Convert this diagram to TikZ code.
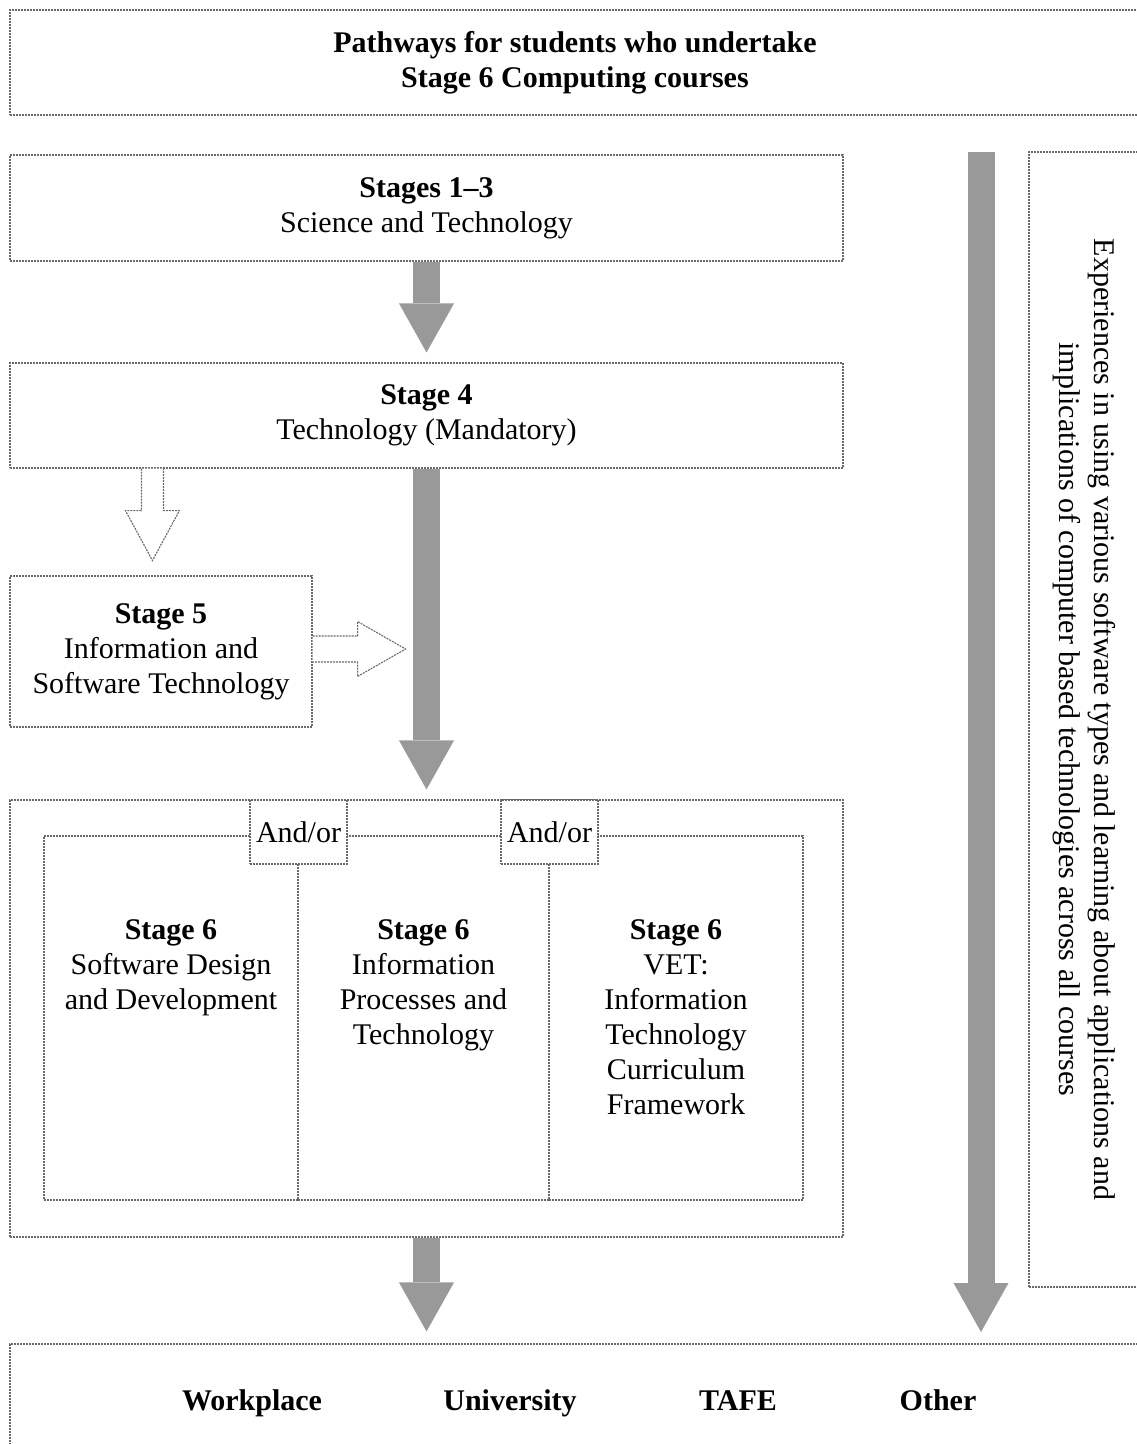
\documentclass[tikz,border=0pt]{standalone}
\usepackage{fontspec}
\setmainfont{Liberation Serif}
\usepackage{xcolor}
\definecolor{flowgray}{RGB}{153,153,153}
\definecolor{boxline}{RGB}{105,105,105}
\usetikzlibrary{arrows.meta}
\usetikzlibrary{positioning}
\usetikzlibrary{calc}

\tikzset{
  stagebox/.style={draw=boxline, line width=1.1pt, dash pattern=on 2pt off 1pt, rectangle, inner sep=0pt, align=center, fill=white},
  flow/.style={draw=flowgray, line width=27pt, -{Triangle[width=55pt,length=49pt,line width=0pt]}},
  hollow/.style={draw=boxline, line width=1.1pt, dash pattern=on 2pt off 1pt, fill=white, line join=miter},
  coltext/.style={align=center, inner sep=0pt}
}

\begin{document}
\begin{tikzpicture}[x=1pt, y=-1pt, every node/.style={font=\fontsize{30}{35}\selectfont}]

\useasboundingbox (0,0) rectangle (1136,1444);

\node[stagebox, minimum width=1130pt, minimum height=105pt] (title) at (575,62.5)
  {\textbf{Pathways for students who undertake}\\\textbf{Stage 6 Computing courses}};

\node[stagebox, minimum width=833pt, minimum height=106pt] (stageA) at (426.5,208)
  {\textbf{Stages 1--3}\\Science and Technology};
\node[stagebox, minimum width=833pt, minimum height=105pt] (stageB) at (426.5,415.5)
  {\textbf{Stage 4}\\Technology (Mandatory)};
\node[stagebox, minimum width=302pt, minimum height=151pt] (stageC) at (161,651.5)
  {\textbf{Stage 5}\\Information and\\Software Technology};

% stage 6 block
\node[stagebox, minimum width=833pt, minimum height=437pt] (stageD) at (426.5,1018.5) {};
\node[stagebox, minimum width=254pt, minimum height=364pt] (sdd) at (171,1018) {};
\node[stagebox, minimum width=251pt, minimum height=364pt] (ipt) at (423.5,1018) {};
\node[stagebox, minimum width=254pt, minimum height=364pt] (vet) at (676,1018) {};
\node[stagebox, minimum width=97pt, minimum height=64pt] (andorA) at (298.5,832) {And/or};
\node[stagebox, minimum width=97pt, minimum height=64pt] (andorB) at (549.5,832) {And/or};

\node[coltext, below=84pt of sdd.north] (sddtext)
  {\textbf{Stage 6}\\Software Design\\and Development};
\node[coltext, below=84pt of ipt.north] (ipttext)
  {\textbf{Stage 6}\\Information\\Processes and\\Technology};
\node[coltext, below=84pt of vet.north] (vettext)
  {\textbf{Stage 6}\\VET:\\Information\\Technology\\Curriculum\\Framework};

\node[stagebox, minimum width=111pt, minimum height=1135pt] (extra) at (1084.5,719.5) {};
\node[coltext, rotate=-90] (extratext) at (extra.center)
  {Experiences in using various software types and learning about applications and\\implications of computer based technologies across all courses};

\node[stagebox, minimum width=1130pt, minimum height=116pt] (dest) at (575,1402) {};
\node[anchor=base] (work) at (252,1410) {\textbf{Workplace}};
\node[anchor=base] (uni) at (510,1410) {\textbf{University}};
\node[anchor=base] (tafe) at (738,1410) {\textbf{TAFE}};
\node[anchor=base] (other) at (938,1410) {\textbf{Other}};

% main flow
\draw[flow, shorten >=10pt] (stageA.south) -- (stageB.north);
\draw[flow, shorten >=10pt] (stageB.south) -- (stageD.north);
\draw[flow, shorten >=12pt] (stageD.south) -- (stageD.south |- dest.north);

\coordinate (railtop) at (981,152);
\coordinate (railend) at (981,1332);
\draw[flow] (railtop) -- (railend);

% optional stage 5 route
\coordinate (optA) at ($(stageB.south west)+(143,0)$);
\draw[hollow] ($(optA)+(-11,0)$) -- ++(0,42) -- ++(-16,0) -- ($(optA)+(0,92)$)
  -- ($(optA)+(27,42)$) -- ++(-16,0) -- ($(optA)+(11,0)$);
\coordinate (optB) at ($(stageC.east)+(0,-2.5)$);
\draw[hollow] ($(optB)+(0,-13)$) -- ++(45,0) -- ++(0,-14.5) -- ($(optB)+(93,0)$)
  -- ($(optB)+(45,27.5)$) -- ++(0,-14.5) -- ($(optB)+(0,13)$);

\end{tikzpicture}
\end{document}
